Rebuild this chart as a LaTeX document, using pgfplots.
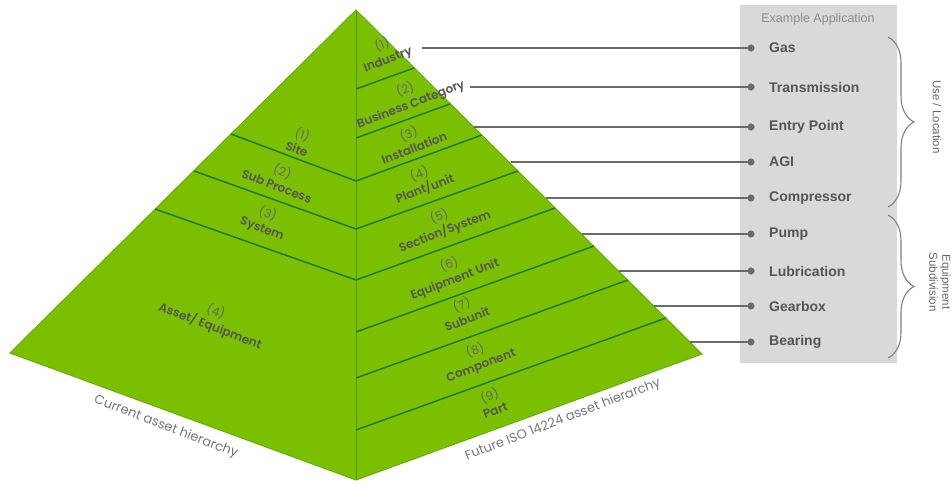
\documentclass[border=0pt]{standalone}
\usepackage{fontspec}
\setmainfont{Liberation Sans}
\newfontfamily\pop{Poppins}[BoldFont={* SemiBold}]
\usepackage{pgfplots}
\pgfplotsset{compat=1.18}
\usetikzlibrary{decorations.pathreplacing}
\definecolor{pyr}{HTML}{7BC000}
\definecolor{pyredge}{HTML}{68AC00}
\definecolor{divl}{HTML}{1F7A3A}
\definecolor{midl}{HTML}{4E9A1C}
\definecolor{txt}{HTML}{555555}
\definecolor{boxg}{HTML}{D9D9D9}
\definecolor{lineg}{HTML}{6A6A6A}
\begin{document}
\begin{tikzpicture}
\begin{axis}[width=952pt,height=484pt,scale only axis,xmin=0,xmax=952,ymin=0,ymax=484,
  y dir=reverse,axis lines=none,clip=false]
% panel
\addplot[fill=boxg,draw=none] coordinates {(740,5)(897,5)(897,363)(740,363)} --cycle;
% pyramid
\addplot[fill=pyr,draw=pyredge,line width=1pt] coordinates {(356,10)(10,353)(356,480)(702,354)} --cycle;
\addplot[midl,line width=1pt] coordinates {(356,10)(356,480)};
% left face divisions
\addplot[divl,line width=1.5pt] coordinates {(231,134)(356,181)};
\addplot[divl,line width=1.5pt] coordinates {(194,171)(356,229)};
\addplot[divl,line width=1.5pt] coordinates {(155,209)(356,280)};
% right face divisions
\addplot[divl,line width=1.5pt] coordinates {(356,89)(414,68)};
\addplot[divl,line width=1.5pt] coordinates {(356,138)(450,104)};
\addplot[divl,line width=1.5pt] coordinates {(356,181)(482,135)};
\addplot[divl,line width=1.5pt] coordinates {(356,229)(518,171)};
\addplot[divl,line width=1.5pt] coordinates {(356,280)(555,208)};
\addplot[divl,line width=1.5pt] coordinates {(356,332)(594,246)};
\addplot[divl,line width=1.5pt] coordinates {(356,378)(628,280)};
\addplot[divl,line width=1.5pt] coordinates {(356,430)(666,318)};
% connectors
\addplot[lineg,line width=1.3pt] coordinates {(422,48)(751,48)};
\addplot[lineg,line width=1.3pt] coordinates {(470,87)(751,87)};
\addplot[lineg,line width=1.3pt] coordinates {(474,127)(751,127)};
\addplot[lineg,line width=1.3pt] coordinates {(511,162)(751,162)};
\addplot[lineg,line width=1.3pt] coordinates {(546,198)(751,198)};
\addplot[lineg,line width=1.3pt] coordinates {(582,234)(751,234)};
\addplot[lineg,line width=1.3pt] coordinates {(619,271)(751,271)};
\addplot[lineg,line width=1.3pt] coordinates {(654,306)(751,306)};
\addplot[lineg,line width=1.3pt] coordinates {(690,342)(751,342)};
\addplot[only marks,mark=*,mark size=3.3pt,color=lineg] coordinates {(751,48)(751,87)(751,127)(751,162)(751,198)(751,234)(751,271)(751,306)(751,342)};
% pyramid labels
\tikzset{pl/.style={text=txt,font=\pop\fontsize{12}{15.5}\selectfont,align=center,inner sep=0pt}}
\newcommand\lab[2]{{\color{txt!90}(#1)}\\\bfseries #2}
\node[pl,rotate=-21] at (axis cs:300,141) {\lab{1}{Site}};
\node[pl,rotate=-21] at (axis cs:280,178) {\lab{2}{Sub Process}};
\node[pl,rotate=-21] at (axis cs:265,221) {\lab{3}{System}};
\node[pl,rotate=-21] at (axis cs:213,319) {\lab{4}{Asset/ Equipment}};
\node[pl,rotate=21] at (axis cs:385,52) {\lab{1}{Industry}};
\node[pl,rotate=21] at (axis cs:408,97) {\lab{2}{Business Category}};
\node[pl,rotate=21] at (axis cs:411,140) {\lab{3}{Installation}};
\node[pl,rotate=21] at (axis cs:422,181) {\lab{4}{Plant/unit}};
\node[pl,rotate=21] at (axis cs:442,224) {\lab{5}{Section/System}};
\node[pl,rotate=21] at (axis cs:452,272) {\lab{6}{Equipment Unit}};
\node[pl,rotate=21] at (axis cs:464,311) {\lab{7}{Subunit}};
\node[pl,rotate=21] at (axis cs:478,358) {\lab{8}{Component}};
\node[pl,rotate=21] at (axis cs:492,402) {\lab{9}{Part}};
\node[text=txt!80,font=\pop\fontsize{13}{15}\selectfont,rotate=-21] at (axis cs:166,427) {Current asset hierarchy};
\node[text=txt!80,font=\pop\fontsize{13}{15}\selectfont,rotate=21] at (axis cs:563,420) {Future ISO 14224 asset hierarchy};
% panel text
\node[text=black!45,font=\fontsize{12.5}{14}\selectfont] at (axis cs:818,19) {Example Application};
\tikzset{il/.style={anchor=west,text=txt,font=\bfseries\fontsize{14}{16}\selectfont,inner sep=0pt}}
\node[il] at (axis cs:769,48) {Gas};
\node[il] at (axis cs:769,87) {Transmission};
\node[il] at (axis cs:769,127) {Entry Point};
\node[il] at (axis cs:769,162) {AGI};
\node[il] at (axis cs:769,198) {Compressor};
\node[il] at (axis cs:769,234) {Pump};
\node[il] at (axis cs:769,271) {Lubrication};
\node[il] at (axis cs:769,306) {Gearbox};
\node[il] at (axis cs:769,342) {Bearing};
% braces
\draw[black!50,line width=1.1pt,decorate,decoration={brace,amplitude=26pt}] (axis cs:888,37) -- (axis cs:888,207);
\draw[black!50,line width=1.1pt,decorate,decoration={brace,amplitude=26pt}] (axis cs:888,215) -- (axis cs:888,358);
\node[text=black!60,font=\fontsize{11.5}{13}\selectfont,rotate=-90] at (axis cs:937,117) {Use / Location};
\node[text=black!60,font=\fontsize{11.5}{13}\selectfont,rotate=-90,align=center] at (axis cs:940,282) {Equipment\\Subdivision};
\end{axis}
\pgfresetboundingbox
\useasboundingbox (current axis.south west) rectangle (current axis.north east);
\end{tikzpicture}
\end{document}
